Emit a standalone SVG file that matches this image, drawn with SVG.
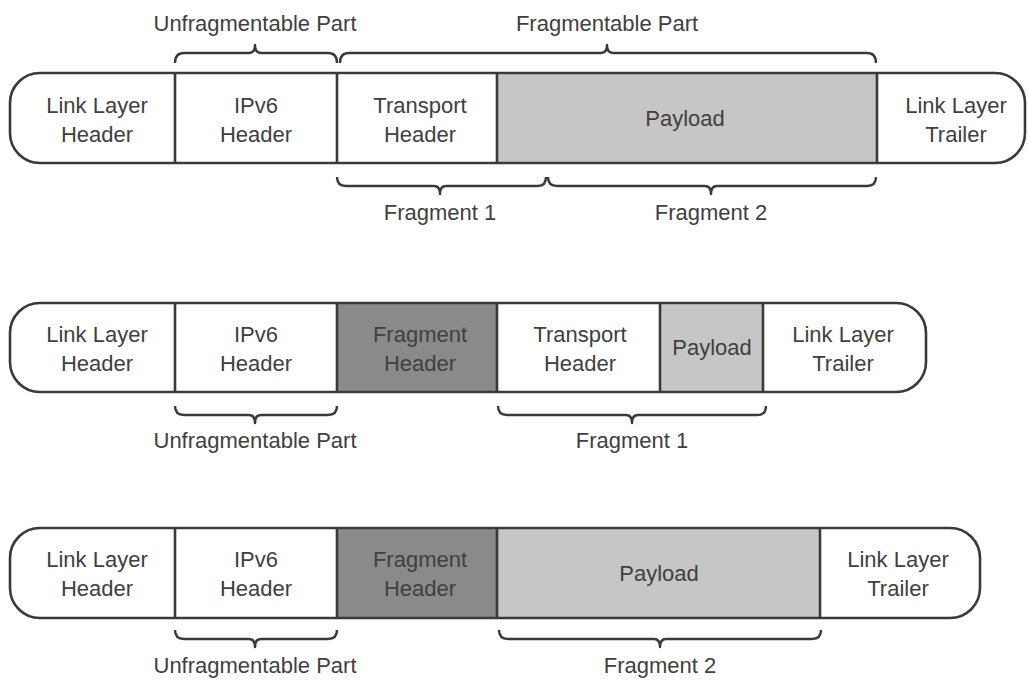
<svg xmlns="http://www.w3.org/2000/svg" width="1028" height="680" viewBox="0 0 1028 680">
<style>
.t{font-family:"Liberation Sans",Arial,sans-serif;font-size:22px;fill:#404040;text-anchor:middle}
.o{fill:none;stroke:#3a3a3a;stroke-width:2.6}
.d{stroke:#3a3a3a;stroke-width:2.6}
.b{fill:none;stroke:#3a3a3a;stroke-width:2.4;stroke-linejoin:round}
.w{fill:#fff}
.p{fill:#c6c6c6}
.f{fill:#8a8a8a}
</style>
<rect width="1028" height="680" fill="#fff"/>

<!-- Packet 1 -->
<g id="packet1">
  <rect class="w" x="10" y="73" width="1015" height="90" rx="30"/>
  <rect class="p" x="497" y="73" width="380" height="90"/>
  <g id="p1-llh"><text class="t" x="97" y="113">Link Layer</text><text class="t" x="97" y="142">Header</text></g>
  <g id="p1-ipv6"><text class="t" x="256" y="113">IPv6</text><text class="t" x="256" y="142">Header</text></g>
  <g id="p1-transport"><text class="t" x="420" y="113">Transport</text><text class="t" x="420" y="142">Header</text></g>
  <g id="p1-payload"><text class="t" x="685" y="126">Payload</text></g>
  <g id="p1-trailer"><text class="t" x="956" y="113">Link Layer</text><text class="t" x="956" y="142">Trailer</text></g>
  <line class="d" x1="175" y1="73" x2="175" y2="163"/>
  <line class="d" x1="337" y1="73" x2="337" y2="163"/>
  <line class="d" x1="497" y1="73" x2="497" y2="163"/>
  <line class="d" x1="877" y1="73" x2="877" y2="163"/>
  <rect class="o" x="10" y="73" width="1015" height="90" rx="30"/>
</g>

<!-- Packet 2 -->
<g id="packet2">
  <rect class="w" x="10" y="303" width="916" height="89" rx="30"/>
  <rect class="f" x="337" y="303" width="160" height="89"/>
  <rect class="p" x="660" y="303" width="103" height="89"/>
  <g id="p2-llh"><text class="t" x="97" y="342">Link Layer</text><text class="t" x="97" y="371">Header</text></g>
  <g id="p2-ipv6"><text class="t" x="256" y="342">IPv6</text><text class="t" x="256" y="371">Header</text></g>
  <g id="p2-fraghdr"><text class="t" x="420" y="342">Fragment</text><text class="t" x="420" y="371">Header</text></g>
  <g id="p2-transport"><text class="t" x="580" y="342">Transport</text><text class="t" x="580" y="371">Header</text></g>
  <g id="p2-payload"><text class="t" x="712" y="355">Payload</text></g>
  <g id="p2-trailer"><text class="t" x="843" y="342">Link Layer</text><text class="t" x="843" y="371">Trailer</text></g>
  <line class="d" x1="175" y1="303" x2="175" y2="392"/>
  <line class="d" x1="337" y1="303" x2="337" y2="392"/>
  <line class="d" x1="497" y1="303" x2="497" y2="392"/>
  <line class="d" x1="660" y1="303" x2="660" y2="392"/>
  <line class="d" x1="763" y1="303" x2="763" y2="392"/>
  <rect class="o" x="10" y="303" width="916" height="89" rx="30"/>
</g>

<!-- Packet 3 -->
<g id="packet3">
  <rect class="w" x="10" y="528" width="970" height="90" rx="30"/>
  <rect class="f" x="337" y="528" width="160" height="90"/>
  <rect class="p" x="497" y="528" width="323" height="90"/>
  <g id="p3-llh"><text class="t" x="97" y="567">Link Layer</text><text class="t" x="97" y="596">Header</text></g>
  <g id="p3-ipv6"><text class="t" x="256" y="567">IPv6</text><text class="t" x="256" y="596">Header</text></g>
  <g id="p3-fraghdr"><text class="t" x="420" y="567">Fragment</text><text class="t" x="420" y="596">Header</text></g>
  <g id="p3-payload"><text class="t" x="659" y="581">Payload</text></g>
  <g id="p3-trailer"><text class="t" x="898" y="567">Link Layer</text><text class="t" x="898" y="596">Trailer</text></g>
  <line class="d" x1="175" y1="528" x2="175" y2="618"/>
  <line class="d" x1="337" y1="528" x2="337" y2="618"/>
  <line class="d" x1="497" y1="528" x2="497" y2="618"/>
  <line class="d" x1="820" y1="528" x2="820" y2="618"/>
  <rect class="o" x="10" y="528" width="970" height="90" rx="30"/>
</g>

<!-- Braces -->
<g id="connectors">
  <path class="b" d="M175,63 Q175,53 184,53 L249,53 Q255,53 255,45 Q255,53 261,53 L328,53 Q337,53 337,63"/>
  <path class="b" d="M340,63 Q340,53 349,53 L601,53 Q607,53 607,45 Q607,53 613,53 L867,53 Q876,53 876,63"/>
  <path class="b" d="M337,177 Q337,186 346,186 L434,186 Q440,186 440,194 Q440,186 446,186 L538,186 Q546,186 546,177"/>
  <path class="b" d="M548,177 Q548,186 557,186 L705,186 Q711,186 711,194 Q711,186 717,186 L867,186 Q876,186 876,177"/>
  <path class="b" d="M175,406 Q175,415 184,415 L249,415 Q255,415 255,423 Q255,415 261,415 L328,415 Q337,415 337,406"/>
  <path class="b" d="M498,406 Q498,415 507,415 L626,415 Q632,415 632,423 Q632,415 638,415 L757,415 Q766,415 766,406"/>
  <path class="b" d="M175,630 Q175,639 184,639 L249,639 Q255,639 255,647 Q255,639 261,639 L328,639 Q337,639 337,630"/>
  <path class="b" d="M499,630 Q499,639 508,639 L654,639 Q660,639 660,647 Q660,639 666,639 L812,639 Q821,639 821,630"/>
</g>

<g id="labels">
  <text class="t" x="255" y="31">Unfragmentable Part</text>
  <text class="t" x="607" y="31">Fragmentable Part</text>
  <text class="t" x="440" y="220">Fragment 1</text>
  <text class="t" x="711" y="220">Fragment 2</text>
  <text class="t" x="255" y="448">Unfragmentable Part</text>
  <text class="t" x="632" y="448">Fragment 1</text>
  <text class="t" x="255" y="673">Unfragmentable Part</text>
  <text class="t" x="660" y="673">Fragment 2</text>
</g>
</svg>
